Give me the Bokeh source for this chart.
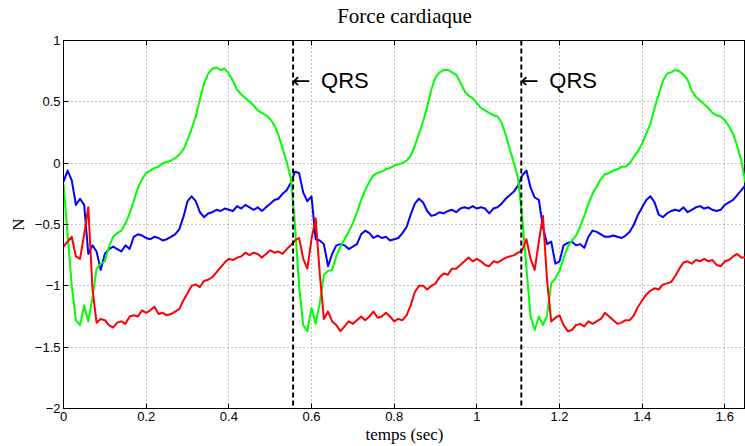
from bokeh.plotting import figure
from bokeh.models import (Range1d, FixedTicker, CustomJSTickFormatter, LinearAxis, Span,
                          ColumnDataSource, CustomLabelingPolicy)
from bokeh.core.properties import value
from bokeh.embed import file_html
from bokeh.resources import INLINE

# ---------------- data ----------------
sample_step = 0.01  # seconds between samples, first sample at t = 0

blue = [
    -0.15, -0.06, -0.14, -0.34, -0.29, -0.34, -0.74, -0.67, -0.72, -0.87,
    -0.74, -0.70, -0.68, -0.70, -0.72, -0.67, -0.70, -0.60, -0.58, -0.59,
    -0.61, -0.62, -0.60, -0.61, -0.63, -0.62, -0.60, -0.58, -0.54, -0.44,
    -0.31, -0.27, -0.31, -0.40, -0.44, -0.41, -0.40, -0.38, -0.39, -0.37,
    -0.38, -0.39, -0.35, -0.37, -0.34, -0.36, -0.38, -0.36, -0.39, -0.36,
    -0.33, -0.30, -0.29, -0.25, -0.22, -0.16,
    -0.07, -0.08, -0.24, -0.31, -0.27, -0.62, -0.63, -0.66, -0.84, -0.74,
    -0.67, -0.66, -0.67, -0.70, -0.68, -0.66, -0.58, -0.55, -0.57, -0.61,
    -0.59, -0.61, -0.60, -0.63, -0.62, -0.61, -0.57, -0.52, -0.42, -0.33,
    -0.29, -0.32, -0.39, -0.43, -0.42, -0.40, -0.41, -0.39, -0.38, -0.40,
    -0.37, -0.36, -0.37, -0.35, -0.37, -0.36, -0.37, -0.41, -0.37, -0.36,
    -0.33, -0.29, -0.26, -0.23, -0.18,
    -0.10, -0.06, -0.20, -0.28, -0.30, -0.52, -0.66, -0.64, -0.82, -0.80,
    -0.67, -0.65, -0.64, -0.67, -0.66, -0.69, -0.60, -0.55, -0.56, -0.58,
    -0.60, -0.60, -0.59, -0.60, -0.61, -0.59, -0.56, -0.50, -0.42, -0.36,
    -0.30, -0.27, -0.32, -0.42, -0.44, -0.41, -0.39, -0.38, -0.39, -0.36,
    -0.40, -0.38, -0.36, -0.35, -0.37, -0.36, -0.38, -0.39, -0.38, -0.34,
    -0.32, -0.30, -0.26, -0.22, -0.18,
]

green = [
    -0.17, -0.58, -1.00, -1.28, -1.32, -1.16, -1.29, -1.10, -0.86, -0.82,
    -0.80, -0.68, -0.60, -0.57, -0.55, -0.49, -0.41, -0.31, -0.20, -0.13,
    -0.08, -0.06, -0.04, -0.03, 0.00, 0.01, 0.02, 0.04, 0.07, 0.11,
    0.19, 0.28, 0.38, 0.52, 0.65, 0.73, 0.77, 0.78, 0.76, 0.77,
    0.73, 0.67, 0.60, 0.56, 0.53, 0.50, 0.47, 0.43, 0.41, 0.39,
    0.36, 0.31, 0.23, 0.12, 0.01, -0.12,
    -0.50, -1.00, -1.32, -1.37, -1.18, -1.31, -1.14, -0.91, -0.88, -0.87,
    -0.76, -0.68, -0.62, -0.56, -0.49, -0.40, -0.30, -0.22, -0.15, -0.10,
    -0.08, -0.07, -0.05, -0.04, -0.02, -0.01, 0.00, 0.02, 0.06, 0.14,
    0.24, 0.34, 0.46, 0.60, 0.70, 0.74, 0.76, 0.76, 0.74, 0.72,
    0.66, 0.59, 0.55, 0.53, 0.49, 0.45, 0.43, 0.41, 0.39, 0.38,
    0.33, 0.23, 0.11, 0.00, -0.13,
    -0.45, -0.85, -1.25, -1.36, -1.25, -1.32, -1.24, -0.98, -0.94, -0.88,
    -0.77, -0.68, -0.63, -0.59, -0.52, -0.43, -0.33, -0.25, -0.19, -0.13,
    -0.09, -0.08, -0.06, -0.05, -0.03, -0.03, 0.00, 0.05, 0.10, 0.16,
    0.24, 0.32, 0.45, 0.56, 0.67, 0.73, 0.74, 0.76, 0.75, 0.72,
    0.68, 0.59, 0.54, 0.51, 0.48, 0.45, 0.41, 0.39, 0.38, 0.35,
    0.30, 0.24, 0.14, 0.02, -0.16,
]

red = [
    -0.68, -0.64, -0.60, -0.76, -0.78, -0.58, -0.36, -1.02, -1.30, -1.27,
    -1.28, -1.32, -1.34, -1.30, -1.29, -1.31, -1.25, -1.24, -1.25, -1.20,
    -1.22, -1.20, -1.17, -1.23, -1.22, -1.24, -1.23, -1.21, -1.19, -1.12,
    -1.06, -1.00, -0.99, -1.01, -0.96, -0.95, -0.93, -0.89, -0.85, -0.81,
    -0.78, -0.79, -0.77, -0.76, -0.73, -0.75, -0.73, -0.74, -0.77, -0.74,
    -0.71, -0.73, -0.72, -0.74, -0.70, -0.67,
    -0.63, -0.61, -0.78, -0.86, -0.62, -0.45, -0.90, -1.27, -1.21, -1.29,
    -1.32, -1.37, -1.33, -1.29, -1.31, -1.28, -1.25, -1.28, -1.25, -1.21,
    -1.26, -1.25, -1.22, -1.25, -1.29, -1.27, -1.28, -1.24, -1.16, -1.05,
    -1.00, -1.00, -1.03, -1.00, -0.98, -0.93, -0.90, -0.91, -0.86, -0.86,
    -0.83, -0.80, -0.77, -0.80, -0.78, -0.80, -0.83, -0.84, -0.80, -0.81,
    -0.79, -0.77, -0.76, -0.75, -0.73,
    -0.71, -0.62, -0.78, -0.87, -0.64, -0.43, -0.96, -1.29, -1.26, -1.24,
    -1.32, -1.37, -1.36, -1.32, -1.31, -1.33, -1.29, -1.31, -1.29, -1.27,
    -1.22, -1.25, -1.28, -1.31, -1.30, -1.28, -1.28, -1.24, -1.17, -1.12,
    -1.07, -1.04, -1.02, -1.03, -0.99, -0.98, -0.97, -0.92, -0.86, -0.81,
    -0.80, -0.82, -0.79, -0.80, -0.78, -0.80, -0.79, -0.83, -0.84, -0.80,
    -0.79, -0.76, -0.74, -0.77, -0.77,
]

qrs_times = [0.5555, 1.1076]
qrs_arrow = "\u2190"
qrs_text = "QRS"

x_ticks = [0, 0.2, 0.4, 0.6, 0.8, 1.0, 1.2, 1.4, 1.6]
x_tick_labels = ["0", "0.2", "0.4", "0.6", "0.8", "1", "1.2", "1.4", "1.6"]
y_ticks = [-2, -1.5, -1, -0.5, 0, 0.5, 1]
y_tick_labels = ["\u22122", "\u22121.5", "\u22121", "\u22120.5", "0", "0.5", "1"]

title_text = "Force cardiaque"
x_label = "temps (sec)"
y_label = "N"

# ---------------- figure ----------------
time = [round(i * sample_step, 2) for i in range(len(blue))]
src = ColumnDataSource(dict(t=time, blue=blue, green=green, red=red))

p = figure(width=745, height=446,
           x_range=Range1d(0, 1.65), y_range=Range1d(-2, 1),
           output_backend="svg", toolbar_location=None,
           min_border_left=63, min_border_right=0,
           min_border_top=40, min_border_bottom=37,
           title=title_text, x_axis_label=x_label, y_axis_label=y_label)

p.background_fill_color = "white"
p.border_fill_color = "white"
p.outline_line_color = "black"
p.outline_line_width = 1

p.title.text_font = "Liberation Serif"
p.title.text_font_size = "21px"
p.title.text_font_style = "normal"
p.title.text_color = "black"
p.title.align = "center"
p.title.standoff = 3


def tick_formatter(tick_values, tick_labels):
    return CustomJSTickFormatter(args=dict(tvals=tick_values, tlabels=tick_labels), code="""
        for (let i = 0; i < tvals.length; i++) {
            if (Math.abs(tvals[i] - tick) < 1e-6) { return tlabels[i]; }
        }
        return '';
    """)


xt = FixedTicker(ticks=x_ticks)
yt = FixedTicker(ticks=y_ticks)
p.xaxis.ticker = xt
p.yaxis.ticker = yt
p.xaxis.formatter = tick_formatter(x_ticks, x_tick_labels)
p.yaxis.formatter = tick_formatter(y_ticks, y_tick_labels)

for ax in (p.xaxis[0], p.yaxis[0]):
    ax.major_tick_in = 5
    ax.major_tick_out = 0
    ax.minor_tick_in = 0
    ax.minor_tick_out = 0
    ax.axis_line_color = "black"
    ax.major_tick_line_color = "black"
    ax.major_label_text_font = "Liberation Sans"
    ax.major_label_text_font_size = "13px"
    ax.major_label_text_color = "black"
    ax.axis_label_text_font = "Liberation Serif"
    ax.axis_label_text_font_size = "17px"
    ax.axis_label_text_font_style = "normal"
    ax.axis_label_text_color = "black"

p.xaxis.major_label_standoff = 3
p.xaxis.axis_label_standoff = 1
p.yaxis.major_label_standoff = 3
p.yaxis.axis_label_standoff = 4

top_axis = LinearAxis(ticker=xt, major_tick_in=5, major_tick_out=0,
                      minor_tick_in=0, minor_tick_out=0,
                      major_label_policy=CustomLabelingPolicy(code="return new Set()"),
                      major_label_standoff=0, axis_line_color="black")
p.add_layout(top_axis, "above")

for g, t in ((p.xgrid[0], xt), (p.ygrid[0], yt)):
    g.ticker = t
    g.grid_line_color = "#8c8c8c"
    g.grid_line_dash = "1 3"
    g.grid_line_width = 1

p.line(x="t", y="blue", source=src, line_color="#0000ff", line_width=2, line_join="round")
p.line(x="t", y="green", source=src, line_color="#00ff00", line_width=2, line_join="round")
p.line(x="t", y="red", source=src, line_color="#ff0000", line_width=2, line_join="round")

for q in qrs_times:
    p.add_layout(Span(location=q, dimension="height", line_color="black",
                      line_width=2, line_dash="5 3"))

label_level = [0.675] * len(qrs_times)
asrc = ColumnDataSource(dict(x=qrs_times, y=label_level, text=[qrs_arrow] * len(qrs_times)))
p.text(x="x", y="y", text="text", source=asrc, text_font=value("DejaVu Sans"),
       text_font_size="22px", text_baseline="alphabetic", text_align="left",
       x_offset=-1, text_color="black")
qsrc = ColumnDataSource(dict(x=qrs_times, y=label_level, text=[qrs_text] * len(qrs_times)))
p.text(x="x", y="y", text="text", source=qsrc, text_font=value("Liberation Sans"),
       text_font_size="22px", text_baseline="alphabetic", text_align="left",
       x_offset=28, text_color="black")

open("out.html", "w").write(file_html(p, INLINE))
